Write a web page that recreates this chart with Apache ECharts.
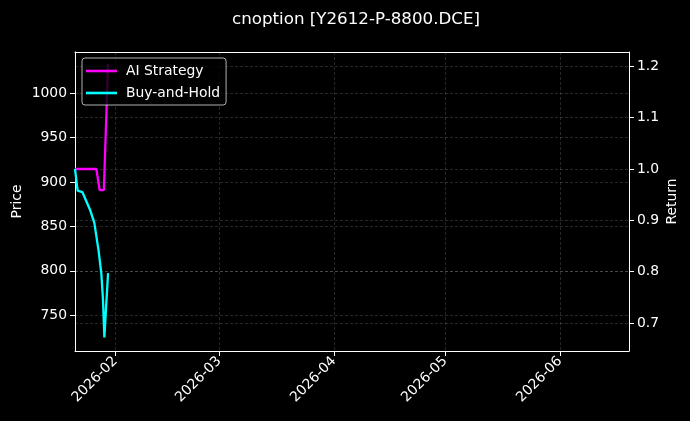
<!DOCTYPE html>
<html>
<head>
<meta charset="utf-8">
<script src="https://cdn.jsdelivr.net/npm/echarts@6/dist/echarts.min.js"></script>
<style>
  html, body { margin: 0; padding: 0; background: #000; }
  #main { width: 690px; height: 421px; }
</style>
</head>
<body>
<div id="main"></div>
<script>
// 数据
var aiTimes = ['2026-01-21 02:30', '2026-01-26 20:45', '2026-01-27 18:10', '2026-01-28 21:25', '2026-01-30 00:40'];
var aiValues = [1.0, 1.0, 0.959, 0.959, 1.205];

var bhTimes = ['2026-01-21 02:30', '2026-01-21 19:30', '2026-01-23 02:00', '2026-01-25 05:50', '2026-01-26 07:45',
    '2026-01-27 11:40', '2026-01-28 05:10', '2026-01-28 16:15', '2026-01-29 00:40', '2026-01-30 00:40'];
var bhValues = [1.0, 0.958, 0.955, 0.919, 0.895, 0.840, 0.796, 0.743, 0.672, 0.797];

var priceTicks = [750, 800, 850, 900, 950, 1000];
var returnTicks = [0.7, 0.8, 0.9, 1.0, 1.1, 1.2];

var xMin = '2026-01-21 02:30';
var xMax = '2026-06-19 15:30';

function pairs(t, v) {
    return t.map(function (d, i) { return [d, v[i]]; });
}

var font = 'DejaVu Sans';
var gridLine = { show: true, lineStyle: { color: 'rgba(255,255,255,0.22)', width: 0.7, type: [3, 2] } };

var myChart = echarts.init(document.getElementById('main'));

var option = {
    backgroundColor: '#000',
    animation: false,
    textStyle: { fontFamily: font },
    title: {
        text: 'cnoption [Y2612-P-8800.DCE]',
        left: 351, textAlign: 'center',
        top: 6,
        textStyle: { color: '#fff', fontSize: 16.7, fontWeight: 'normal', fontFamily: font }
    },
    grid: { left: 75, right: 61, top: 52, bottom: 70, outerBoundsMode: 'none', containLabel: false },
    legend: {
        orient: 'vertical',
        left: 82, top: 58,
        data: ['AI Strategy', 'Buy-and-Hold'],
        icon: 'rect',
        itemWidth: 31, itemHeight: 2.6,
        itemGap: 8,
        padding: [6, 6, 5, 4],
        backgroundColor: 'rgba(0,0,0,0.8)',
        borderColor: 'rgba(220,220,220,0.8)',
        borderWidth: 1,
        borderRadius: 3,
        textStyle: { color: '#fff', fontSize: 13.9, fontFamily: font, padding: [0, 0, 0, 4] }
    },
    xAxis: [{
        type: 'time',
        min: xMin, max: xMax,
        splitNumber: 5,
        axisLine: { lineStyle: { color: '#fff', width: 1 } },
        axisTick: { show: true, length: 5, lineStyle: { color: '#fff' } },
        axisLabel: {
            color: '#fff', fontSize: 13.9, fontFamily: font,
            rotate: 45, margin: 8,
            formatter: '{yyyy}-{MM}',
            showMinLabel: false, showMaxLabel: false
        },
        splitLine: gridLine
    }, {
        type: 'time',
        position: 'top',
        min: xMin, max: xMax,
        axisLine: { lineStyle: { color: '#fff', width: 1 } },
        axisTick: { show: false },
        axisLabel: { show: false },
        splitLine: { show: false }
    }],
    yAxis: [{
        type: 'value',
        position: 'left',
        name: 'Price',
        nameLocation: 'middle',
        nameMoveOverlap: false,
        nameGap: 51,
        nameTextStyle: { color: '#fff', fontSize: 13.9, fontFamily: font },
        min: 709.9, max: 1046.1,
        axisLine: { show: true, lineStyle: { color: '#fff', width: 1 } },
        axisTick: { show: true, length: 5, lineStyle: { color: '#fff' }, customValues: priceTicks },
        axisLabel: {
            color: '#fff', fontSize: 13.9, fontFamily: font, margin: 8, customValues: priceTicks,
            formatter: function (v) { return String(v); }
        },
        splitLine: gridLine
    }, {
        type: 'value',
        position: 'right',
        name: 'Return',
        nameLocation: 'middle',
        nameMoveOverlap: false,
        nameGap: 36,
        nameTextStyle: { color: '#fff', fontSize: 13.9, fontFamily: font },
        min: 0.6454, max: 1.2279,
        axisLine: { show: true, lineStyle: { color: '#fff', width: 1 } },
        axisTick: { show: true, length: 5, lineStyle: { color: '#fff' }, customValues: returnTicks },
        axisLabel: {
            color: '#fff', fontSize: 13.9, fontFamily: font, margin: 8, customValues: returnTicks,
            formatter: function (v) { return v.toFixed(1); }
        },
        splitLine: gridLine
    }],
    series: [{
        name: 'AI Strategy',
        type: 'line',
        yAxisIndex: 1,
        symbol: 'none',
        lineStyle: { color: '#ff00ff', width: 2.3 },
        itemStyle: { color: '#ff00ff' },
        data: pairs(aiTimes, aiValues)
    }, {
        name: 'Buy-and-Hold',
        type: 'line',
        yAxisIndex: 1,
        symbol: 'none',
        lineStyle: { color: '#00ffff', width: 2.3 },
        itemStyle: { color: '#00ffff' },
        data: pairs(bhTimes, bhValues)
    }]
};

myChart.setOption(option);
</script>
</body>
</html>
